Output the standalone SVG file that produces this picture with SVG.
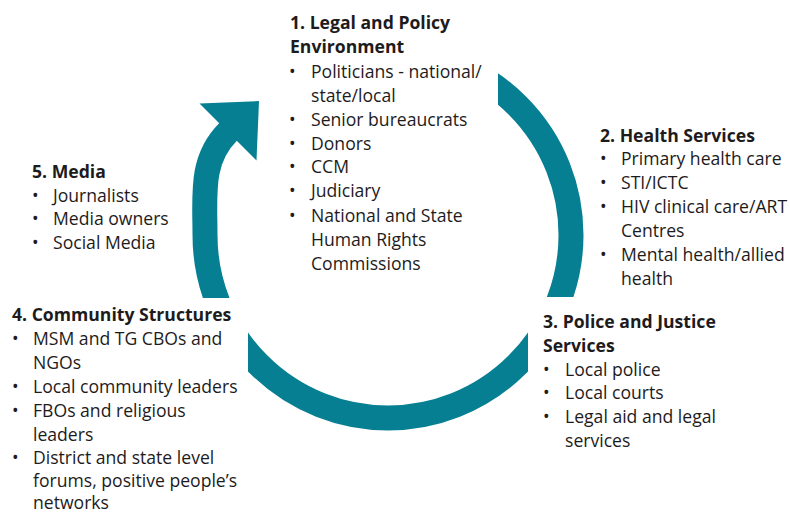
<svg xmlns="http://www.w3.org/2000/svg" width="790" height="513" viewBox="0 0 790 513">
<defs>
<style>
.t{font-family:"Open Sans","Liberation Sans",sans-serif;font-size:17.6px;fill:#1e1b1c}
.h{font-weight:bold}
.ring{fill:none;stroke:#067f93;stroke-width:25}
</style>
<clipPath id="clipRight"><rect x="498" y="0" width="300" height="297"/></clipPath>
<clipPath id="clipBottom"><rect x="248" y="300" width="280" height="213"/></clipPath>
<clipPath id="clipLeft"><rect x="0" y="0" width="400" height="298"/></clipPath>
</defs>
<rect width="790" height="513" fill="#fff"/>
<g id="connectors">
<circle class="ring" cx="388" cy="235" r="183" clip-path="url(#clipRight)"/>
<circle class="ring" cx="388" cy="235" r="183" clip-path="url(#clipBottom)"/>
<path class="ring" clip-path="url(#clipLeft)" d="M226,320 A183,183 0 0 1 205,235 C205,195 200,160 228,132 L236,124"/>
<polygon points="199.5,103.5 259,101 256.5,160.5" fill="#067f93"/>
</g>
<g id="node1" class="t">
<text x="290" y="29" class="h">1. Legal and Policy</text>
<text x="290" y="53" class="h">Environment</text>
<text x="289" y="78">•</text><text x="311" y="78">Politicians - national/</text>
<text x="311" y="102">state/local</text>
<text x="289" y="126">•</text><text x="311" y="126">Senior bureaucrats</text>
<text x="289" y="150">•</text><text x="311" y="150">Donors</text>
<text x="289" y="173">•</text><text x="311" y="173">CCM</text>
<text x="289" y="197">•</text><text x="311" y="197">Judiciary</text>
<text x="289" y="222">•</text><text x="311" y="222">National and State</text>
<text x="311" y="246">Human Rights</text>
<text x="311" y="270">Commissions</text>
</g>
<g id="node2" class="t">
<text x="600" y="142" class="h">2. Health Services</text>
<text x="600" y="165">•</text><text x="621" y="165">Primary health care</text>
<text x="600" y="189">•</text><text x="621" y="189">STI/ICTC</text>
<text x="600" y="213">•</text><text x="621" y="213">HIV clinical care/ART</text>
<text x="621" y="237">Centres</text>
<text x="600" y="261">•</text><text x="621" y="261">Mental health/allied</text>
<text x="621" y="285">health</text>
</g>
<g id="node3" class="t">
<text x="543" y="328" class="h">3. Police and Justice</text>
<text x="543" y="352" class="h">Services</text>
<text x="543" y="376">•</text><text x="565" y="376">Local police</text>
<text x="543" y="399">•</text><text x="565" y="399">Local courts</text>
<text x="543" y="423">•</text><text x="565" y="423">Legal aid and legal</text>
<text x="565" y="447">services</text>
</g>
<g id="node4" class="t">
<text x="12" y="321" class="h">4. Community Structures</text>
<text x="12" y="345">•</text><text x="33" y="345">MSM and TG CBOs and</text>
<text x="33" y="369">NGOs</text>
<text x="12" y="393">•</text><text x="33" y="393">Local community leaders</text>
<text x="12" y="417">•</text><text x="33" y="417">FBOs and religious</text>
<text x="33" y="441">leaders</text>
<text x="12" y="464">•</text><text x="33" y="464">District and state level</text>
<text x="33" y="487">forums, positive people’s</text>
<text x="33" y="509">networks</text>
</g>
<g id="node5" class="t">
<text x="32" y="178" class="h">5. Media</text>
<text x="32" y="202">•</text><text x="53" y="202">Journalists</text>
<text x="32" y="225">•</text><text x="53" y="225">Media owners</text>
<text x="32" y="249">•</text><text x="53" y="249">Social Media</text>
</g>
</svg>
